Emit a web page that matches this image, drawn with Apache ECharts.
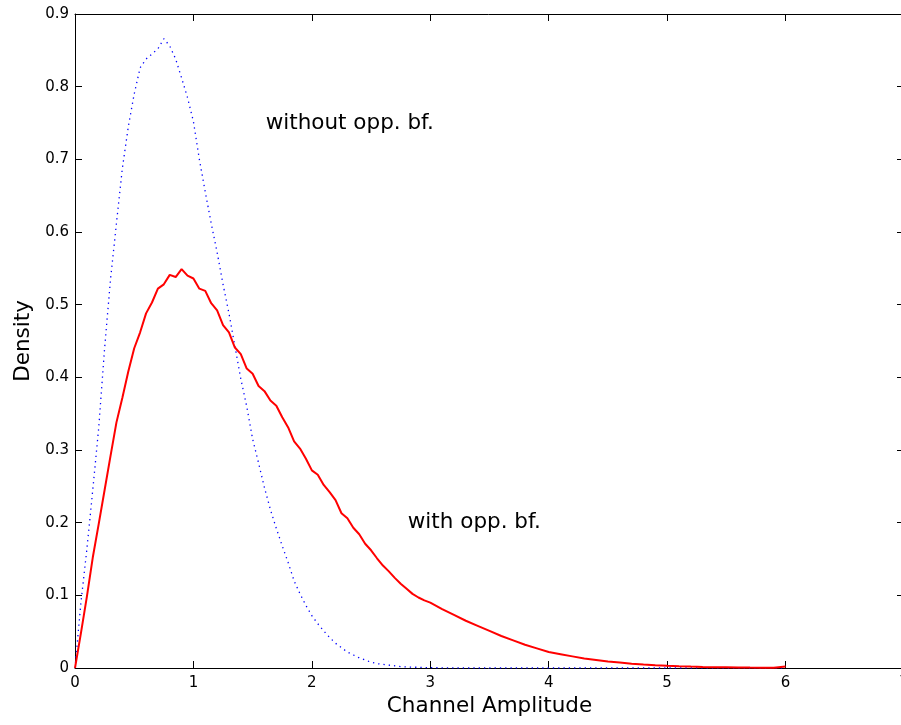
<!DOCTYPE html>
<html>
<head>
<meta charset="utf-8">
<script src="https://cdn.jsdelivr.net/npm/echarts@6/dist/echarts.min.js"></script>
<style>
  html, body { margin: 0; padding: 0; background: #fff; }
  #chart { width: 901px; height: 725px; }
</style>
</head>
<body>
<div id="chart"></div>
<script>
// tick labels
var xTickLabels = ['0', '1', '2', '3', '4', '5', '6', '7'];
var yTickLabels = ['0', '0.1', '0.2', '0.3', '0.4', '0.5', '0.6', '0.7', '0.8', '0.9'];

// with opp. bf. (solid red)
var redX = [0, 0.05, 0.1, 0.15, 0.2, 0.25, 0.3, 0.35, 0.4, 0.45, 0.5, 0.55, 0.6, 0.65, 0.7, 0.75, 0.8, 0.85, 0.9, 0.95,
  1.0, 1.05, 1.1, 1.15, 1.2, 1.25, 1.3, 1.35, 1.4, 1.45, 1.5, 1.55, 1.6, 1.65, 1.7, 1.75, 1.8, 1.85, 1.9, 1.95,
  2.0, 2.05, 2.1, 2.15, 2.2, 2.25, 2.3, 2.35, 2.4, 2.45, 2.5, 2.55, 2.6, 2.65, 2.7, 2.75, 2.8, 2.85, 2.9, 2.95,
  3.0, 3.1, 3.2, 3.3, 3.4, 3.5, 3.6, 3.7, 3.8, 3.9, 4.0, 4.1, 4.2, 4.3, 4.4, 4.5, 4.6, 4.7, 4.8, 4.9,
  5.0, 5.1, 5.2, 5.3, 5.4, 5.5, 5.6, 5.7, 5.8, 5.9, 6.0];
var redY = [0, 0.048, 0.098, 0.152, 0.198, 0.245, 0.292, 0.338, 0.372, 0.408, 0.440, 0.462, 0.488, 0.503, 0.522, 0.528, 0.541, 0.538, 0.549, 0.540,
  0.536, 0.522, 0.519, 0.502, 0.492, 0.472, 0.462, 0.441, 0.432, 0.412, 0.405, 0.388, 0.381, 0.368, 0.361, 0.345, 0.331, 0.312, 0.302, 0.288,
  0.272, 0.266, 0.252, 0.242, 0.231, 0.213, 0.206, 0.193, 0.184, 0.171, 0.162, 0.151, 0.141, 0.133, 0.124, 0.116, 0.109, 0.102, 0.097, 0.093,
  0.090, 0.081, 0.073, 0.065, 0.058, 0.051, 0.044, 0.038, 0.032, 0.027, 0.022, 0.019, 0.016, 0.013, 0.011, 0.009, 0.0075, 0.006, 0.0048, 0.0038,
  0.003, 0.0024, 0.0019, 0.0015, 0.0012, 0.001, 0.0008, 0.0006, 0.0005, 0.0004, 0.002];

// without opp. bf. (dotted blue)
var blueX = [0, 0.05, 0.1, 0.15, 0.2, 0.25, 0.3, 0.35, 0.4, 0.45, 0.5, 0.55, 0.6, 0.65, 0.7, 0.75, 0.8, 0.85, 0.9, 0.95,
  1.0, 1.05, 1.1, 1.15, 1.2, 1.25, 1.3, 1.35, 1.4, 1.45, 1.5, 1.55, 1.6, 1.65, 1.7, 1.75, 1.8, 1.85, 1.9, 1.95,
  2.0, 2.05, 2.1, 2.15, 2.2, 2.25, 2.3, 2.35, 2.4, 2.45, 2.5, 2.55, 2.6, 2.65, 2.7, 2.75, 2.8, 2.85, 2.9, 2.95,
  3.0, 3.2, 3.4, 3.6, 3.8, 4.0, 4.2, 4.4, 4.6, 4.8, 5.0, 5.2, 5.4, 5.6, 5.8, 6.0];
var blueY = [0, 0.09, 0.163, 0.245, 0.33, 0.44, 0.535, 0.612, 0.688, 0.745, 0.79, 0.826, 0.838, 0.845, 0.852, 0.866, 0.856, 0.838, 0.812, 0.785,
  0.752, 0.700, 0.655, 0.612, 0.572, 0.528, 0.488, 0.443, 0.398, 0.360, 0.315, 0.282, 0.248, 0.218, 0.192, 0.168, 0.145, 0.120, 0.102, 0.086,
  0.072, 0.061, 0.051, 0.042, 0.034, 0.028, 0.022, 0.018, 0.014, 0.011, 0.008, 0.006, 0.005, 0.004, 0.003, 0.002, 0.0015, 0.001, 0.001, 0.0005,
  0.0005, 0, 0, 0, 0, 0, 0, 0, 0, 0, 0, 0, 0, 0, 0, 0];

// text annotations, anchored at their left edge
var noteText = ['without opp. bf.', 'with opp. bf.'];
var noteX = [1.61, 2.81];
var noteY = [0.749, 0.201];

function pairs(xs, ys) {
  return xs.map(function (x, i) { return [x, ys[i]]; });
}

var FONT = 'DejaVu Sans';
var chart = echarts.init(document.getElementById('chart'), null, { renderer: 'canvas' });

var lineStyle = { color: '#000', width: 1 };
var tickStyle = { inside: true, length: 7, lineStyle: { color: '#000', width: 1 } };

var option = {
  backgroundColor: '#fff',
  animation: false,
  grid: { left: 75, right: -3, top: 14, bottom: 57, outerBoundsMode: 'none', containLabel: false },
  xAxis: [
    {
      type: 'value', min: 0, max: 7, interval: 1, position: 'bottom',
      axisLine: { show: true, onZero: false, lineStyle: lineStyle },
      axisTick: tickStyle,
      splitLine: { show: false },
      axisLabel: {
        margin: 8, color: '#000', fontFamily: FONT, fontSize: 15,
        formatter: function (v) { return xTickLabels[Math.round(v)]; }
      },
      name: 'Channel Amplitude', nameLocation: 'middle', nameGap: 24,
      nameTextStyle: { color: '#000', fontFamily: FONT, fontSize: 21.5 }
    },
    {
      type: 'value', min: 0, max: 7, interval: 1, position: 'top',
      axisLine: { show: true, onZero: false, lineStyle: lineStyle },
      axisTick: tickStyle,
      splitLine: { show: false },
      axisLabel: { show: false }
    }
  ],
  yAxis: [
    {
      type: 'value', min: 0, max: 0.9, interval: 0.1, position: 'left',
      axisLine: { show: true, onZero: false, lineStyle: lineStyle },
      axisTick: tickStyle,
      splitLine: { show: false },
      axisLabel: {
        margin: 6, color: '#000', fontFamily: FONT, fontSize: 15,
        formatter: function (v) { return yTickLabels[Math.round(v * 10)]; }
      },
      name: 'Density', nameLocation: 'middle', nameGap: 36,
      nameTextStyle: { color: '#000', fontFamily: FONT, fontSize: 21.5 }
    },
    {
      type: 'value', min: 0, max: 0.9, interval: 0.1, position: 'right',
      axisLine: { show: true, onZero: false, lineStyle: lineStyle },
      axisTick: tickStyle,
      splitLine: { show: false },
      axisLabel: { show: false }
    }
  ],
  series: [
    {
      name: 'without opp. bf.', type: 'line', data: pairs(blueX, blueY),
      showSymbol: false, smooth: false, z: 3,
      lineStyle: { color: '#0000ff', width: 1.3, type: [1.3, 4] }
    },
    {
      name: 'with opp. bf.', type: 'line', data: pairs(redX, redY),
      showSymbol: false, smooth: false, z: 4,
      lineStyle: { color: '#ff0000', width: 2 }
    },
    {
      name: 'notes', type: 'scatter', symbolSize: 0, silent: true,
      itemStyle: { opacity: 1 },
      data: noteText.map(function (t, i) { return { value: [noteX[i], noteY[i]], name: t }; }),
      label: {
        show: true, position: 'right', distance: 0, opacity: 1,
        formatter: function (p) { return p.name; },
        color: '#000', textBorderWidth: 0, fontFamily: FONT, fontSize: 21.5
      }
    }
  ]
};

chart.setOption(option);
</script>
</body>
</html>
